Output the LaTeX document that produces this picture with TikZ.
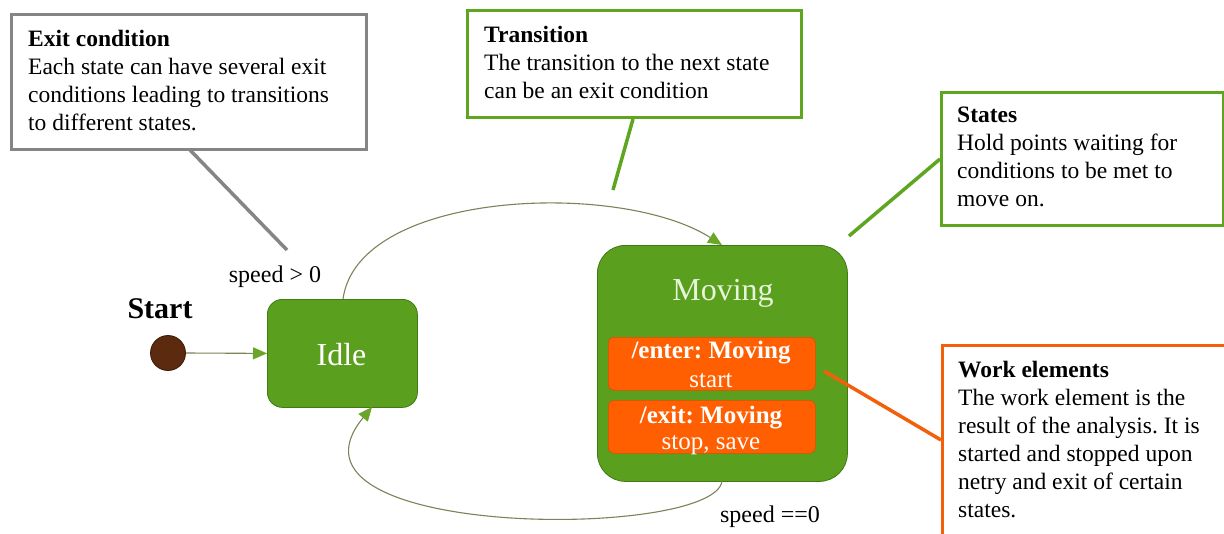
\documentclass[tikz,border=0pt]{standalone}
\usepackage{fontspec}
\setmainfont{Liberation Serif}
\usetikzlibrary{arrows.meta}
\definecolor{stgreen}{HTML}{5B9F1E}
\definecolor{stgreendark}{HTML}{3F7A12}
\definecolor{callgreen}{HTML}{5EA520}
\definecolor{callgray}{HTML}{858585}
\definecolor{callorange}{HTML}{F2600C}
\definecolor{actorange}{HTML}{FF5F00}
\definecolor{linkcol}{HTML}{7E8258}
\definecolor{tipgreen}{HTML}{6AA628}
\definecolor{startbrown}{HTML}{5C2A0E}
\definecolor{movingtext}{HTML}{E6F5DA}
\frenchspacing
\tikzset{
  callbox/.style={draw=#1, line width=3pt, fill=white, anchor=north west, inner sep=0pt},
  calltext/.style={anchor=north west, inner sep=0pt, align=left, font=\fontsize{23.5}{28}\selectfont},
  callline/.style={draw=#1, line width=3.5pt},
  statebox/.style={draw=stgreendark, line width=0.8pt, fill=stgreen, anchor=north west, inner sep=0pt},
  actbox/.style={draw=actorange!85!black, line width=0.6pt, fill=actorange, rounded corners=6pt, anchor=north west, inner sep=0pt, minimum width=207pt, minimum height=53pt},
  acttext/.style={text=white, inner sep=0pt, anchor=base, font=\fontsize{25}{28}\selectfont},
  link/.style={draw=linkcol, line width=1.1pt, -{Triangle[length=14pt,width=12pt,color=tipgreen]}},
  lbl/.style={inner sep=0pt, anchor=base, font=\fontsize{24}{28}\selectfont}
}
\begin{document}
\begin{tikzpicture}[x=1pt,y=-1pt]
\clip (0,0) rectangle (1224,533);
\fill[white] (0,0) rectangle (1224,533);

% callout pointer ends
\coordinate (exitptr) at (287,250);
\coordinate (transptr) at (613,190);
\coordinate (statesptr) at (849,236);
\coordinate (workptr) at (824,371);

% callout boxes
\node[callbox=callgray, minimum width=355pt, minimum height=135pt] (exitbox) at (10,13) {};
\node[callbox=callgreen, minimum width=334pt, minimum height=107pt] (transbox) at (466,9) {};
\node[callbox=callgreen, minimum width=282pt, minimum height=133pt] (statesbox) at (940,91) {};
\node[callbox=callorange, minimum width=320pt, minimum height=220pt] (workbox) at (941,344) {};

\draw[callline=callgray] (190,150) -- (exitptr);
\draw[callline=callgreen] (transbox.south west) ++(167,0) coordinate (tb) -- (transptr);
\draw[callline=callgreen] (statesbox.west) -- (statesptr);

\node[calltext] (exittext) at (28,30) {\textbf{Exit condition}\\Each state can have several exit\\conditions leading to transitions\\to different states.};
\node[calltext] (transtext) at (484,26) {\textbf{Transition}\\The transition to the next state\\can be an exit condition};
\node[calltext] (statestext) at (957,107) {\textbf{States}\\Hold points waiting for\\conditions to be met to\\move on.};
\node[calltext] (worktext) at (958,361) {\textbf{Work elements}\\The work element is the\\result of the analysis. It is\\started and stopped upon\\netry and exit of certain\\states.};

% states
\node[statebox, rounded corners=15pt, minimum width=150pt, minimum height=108pt] (idle) at (267,299) {};
\node[text=white, inner sep=0pt, anchor=base, font=\fontsize{32}{36}\selectfont] (idletext) at (341.5,365) {Idle};

\node[statebox, rounded corners=28pt, minimum width=250pt, minimum height=236pt] (moving) at (597,245) {};
\node[text=movingtext, inner sep=0pt, anchor=base, font=\fontsize{32}{36}\selectfont] (movingtext) at (723,300) {Moving};

\node[actbox] (enter) at (608,337) {};
\node[acttext] (entert1) at (711,358) {\textbf{/enter: Moving}};
\node[acttext] (entert2) at (711,387) {start};
\node[actbox] (exit) at (608,400) {};
\node[acttext] (exitt1) at (711,423) {\textbf{/exit: Moving}};
\node[acttext] (exitt2) at (711,449) {stop, save};

\draw[callline=callorange] (workptr) -- (workbox.north west |- 0,440);

% start
\node[lbl, font=\bfseries\fontsize{30}{34}\selectfont] (startlbl) at (160,318) {Start};
\node[circle, fill=startbrown, draw=startbrown!60!black, line width=0.8pt, minimum size=35pt, inner sep=0pt] (start) at (168,353) {};

% transitions
\draw[link] (start.east) -- (idle.west);
\coordinate (idletop) at (343,299);
\coordinate (movtop) at (722,245);
\draw[link] (idletop) .. controls (358,190) and (620,180) .. (movtop);
\coordinate (movbot) at (722,481);
\coordinate (idlebot) at (372,407);
\draw[link] (movbot) .. controls (715,540) and (262,540) .. (idlebot);

\node[lbl] (cond1) at (275,282) {speed > 0};
\node[lbl] (cond2) at (770,522) {speed ==0};
\end{tikzpicture}
\end{document}
